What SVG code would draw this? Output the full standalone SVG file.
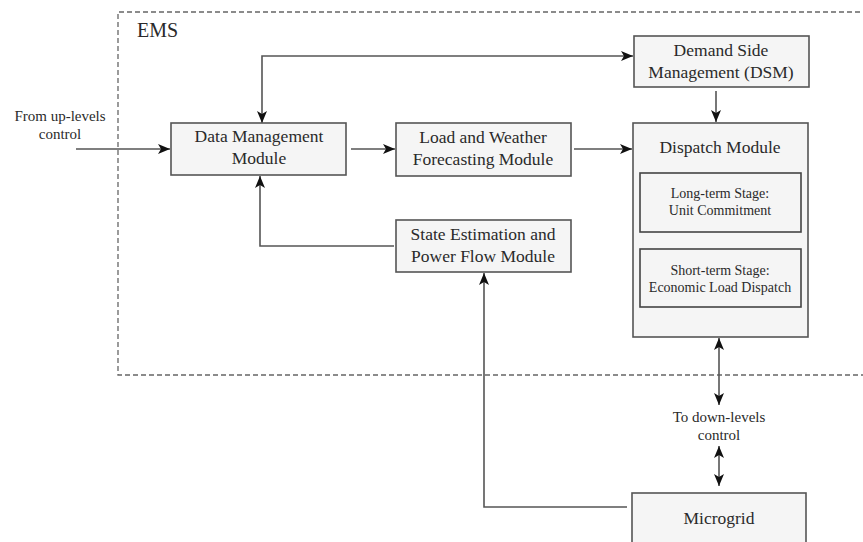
<svg xmlns="http://www.w3.org/2000/svg" width="863" height="542" viewBox="0 0 863 542">
  <defs>
    <marker id="arr" viewBox="0 0 12 10" refX="12" refY="5" markerWidth="12" markerHeight="10" markerUnits="userSpaceOnUse" orient="auto-start-reverse">
      <path d="M0,0 L12,5 L0,10 L3,5 Z" fill="#111"/>
    </marker>
  </defs>
  <style>
    .box { fill: #f5f5f5; stroke: #555; stroke-width: 1.6; }
    .inner { fill: #f5f5f5; stroke: #444; stroke-width: 1.6; }
    .lbl { font-family: "Liberation Serif", "Times New Roman", serif; font-size: 17.5px; fill: #2a2a2a; text-anchor: middle; }
    .sm { font-family: "Liberation Serif", "Times New Roman", serif; font-size: 14px; fill: #2a2a2a; text-anchor: middle; }
    .ext { font-family: "Liberation Serif", "Times New Roman", serif; font-size: 15px; fill: #2a2a2a; text-anchor: middle; }
    .wire { fill: none; stroke: #555; stroke-width: 1.6; }
  </style>
  <rect width="863" height="542" fill="#fff"/>

  <!-- EMS boundary -->
  <g id="ems">
    <path d="M868,12 H118 V375 H868" fill="none" stroke="#666" stroke-width="1.3" stroke-dasharray="5,3"/>
    <text x="137" y="37" font-family="Liberation Serif, serif" font-size="20" fill="#2a2a2a">EMS</text>
  </g>

  <g id="connectors">
    <!-- external input -->
    <line class="wire" x1="76" y1="149" x2="170" y2="149" marker-end="url(#arr)"/>
    <!-- Data Management <-> DSM -->
    <path class="wire" d="M262,123 V56 H633" marker-start="url(#arr)" marker-end="url(#arr)"/>
    <!-- Data Management -> Load and Weather -->
    <line class="wire" x1="351" y1="149" x2="395" y2="149" marker-end="url(#arr)"/>
    <!-- Load and Weather -> Dispatch -->
    <line class="wire" x1="574" y1="149" x2="632" y2="149" marker-end="url(#arr)"/>
    <!-- DSM -> Dispatch -->
    <line class="wire" x1="716" y1="91" x2="716" y2="122" marker-end="url(#arr)"/>
    <!-- State Estimation -> Data Management -->
    <path class="wire" d="M394,246 H260 V176" marker-end="url(#arr)"/>
    <!-- Microgrid -> State Estimation -->
    <path class="wire" d="M627,507 H484 V273" marker-end="url(#arr)"/>
    <!-- Dispatch <-> down-levels -->
    <line class="wire" x1="719" y1="338" x2="719" y2="405" marker-start="url(#arr)" marker-end="url(#arr)"/>
    <line class="wire" x1="719" y1="446" x2="719" y2="486" marker-start="url(#arr)" marker-end="url(#arr)"/>
  </g>

  <g id="from-up">
    <text class="ext" x="60" y="121">From up-levels</text>
    <text class="ext" x="60" y="139">control</text>
  </g>

  <g id="data-management">
    <rect class="box" x="171" y="123" width="175" height="52"/>
    <text class="lbl" x="259" y="142">Data Management</text>
    <text class="lbl" x="259" y="164">Module</text>
  </g>

  <g id="load-weather">
    <rect class="box" x="396" y="123" width="175" height="53"/>
    <text class="lbl" x="483" y="143">Load and Weather</text>
    <text class="lbl" x="483" y="165">Forecasting Module</text>
  </g>

  <g id="dsm">
    <rect class="box" x="634" y="36" width="175" height="51"/>
    <text class="lbl" x="721" y="56">Demand Side</text>
    <text class="lbl" x="721" y="78">Management (DSM)</text>
  </g>

  <g id="state-estimation">
    <rect class="box" x="396" y="220" width="175" height="52"/>
    <text class="lbl" x="483" y="240">State Estimation and</text>
    <text class="lbl" x="483" y="262">Power Flow Module</text>
  </g>

  <g id="dispatch">
    <rect class="box" x="633" y="123" width="175" height="214"/>
    <text class="lbl" x="720" y="153">Dispatch Module</text>
    <rect class="inner" x="640" y="173" width="161" height="59"/>
    <text class="sm" x="720" y="198">Long-term Stage:</text>
    <text class="sm" x="720" y="215">Unit Commitment</text>
    <rect class="inner" x="640" y="249" width="161" height="58"/>
    <text class="sm" x="720" y="275">Short-term Stage:</text>
    <text class="sm" x="720" y="292">Economic Load Dispatch</text>
  </g>

  <g id="to-down">
    <text class="ext" x="719" y="422">To  down-levels</text>
    <text class="ext" x="719" y="440">control</text>
  </g>

  <g id="microgrid">
    <rect class="box" x="632" y="493" width="174" height="60"/>
    <text class="lbl" x="719" y="524">Microgrid</text>
  </g>
</svg>
